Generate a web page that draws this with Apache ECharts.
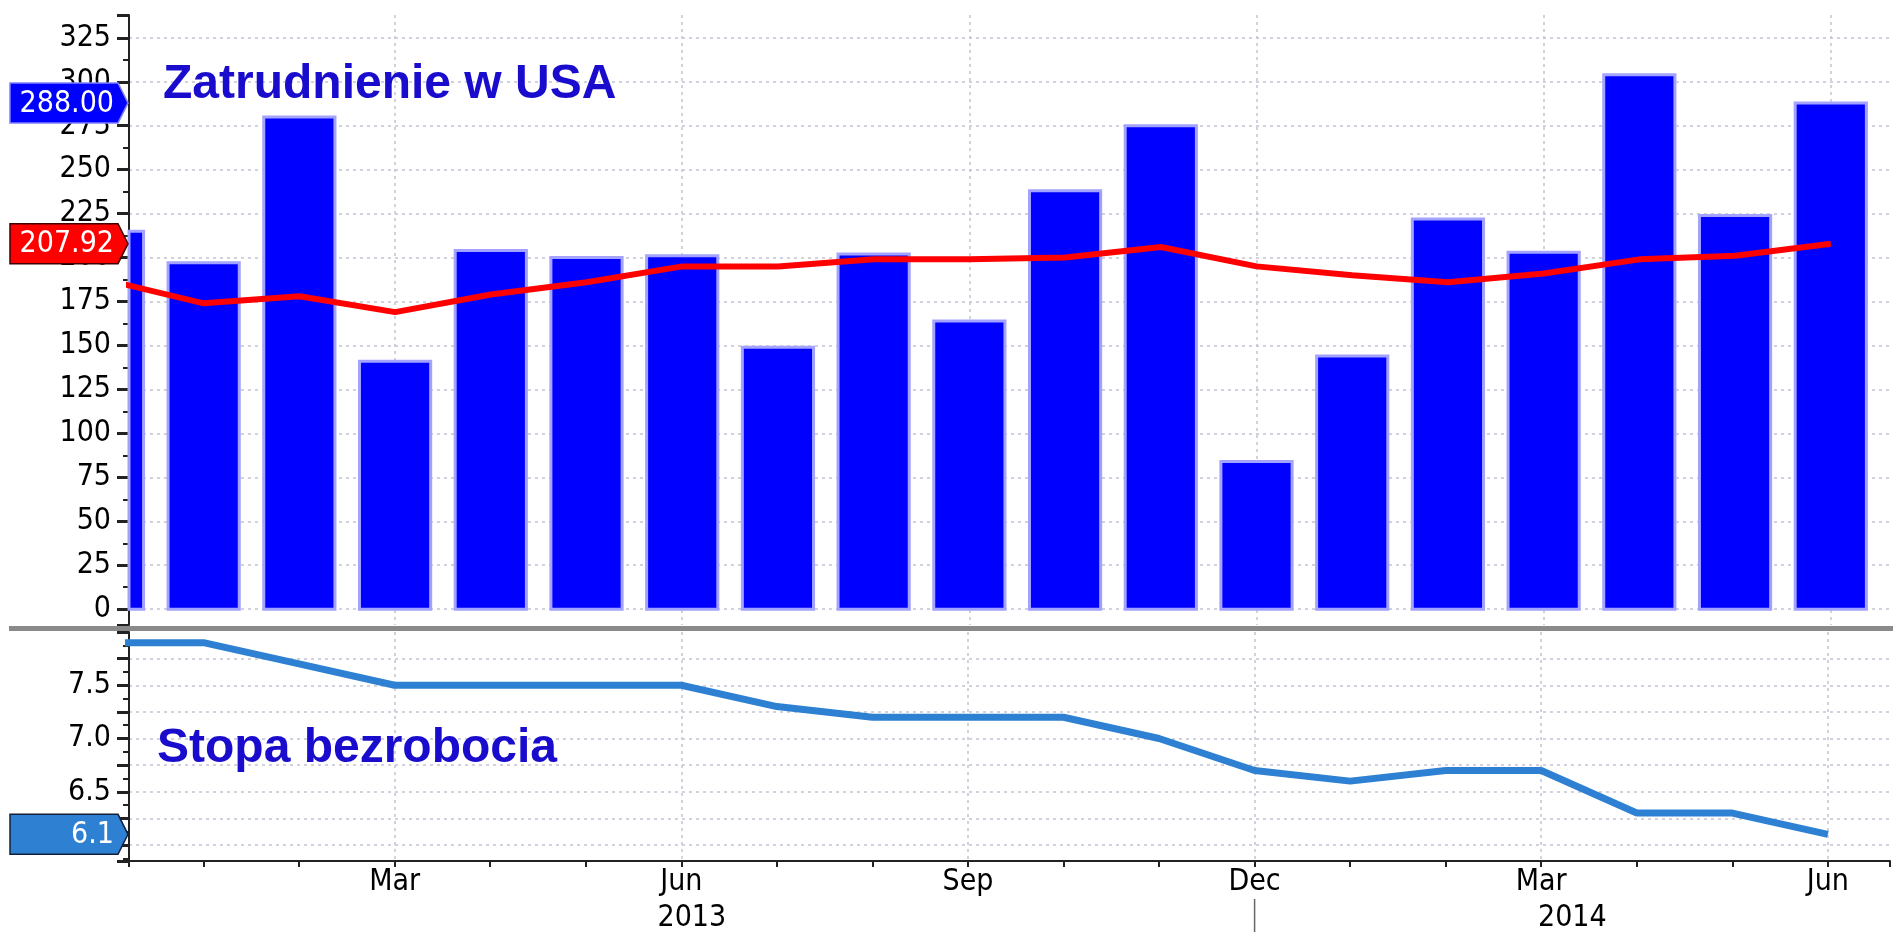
<!DOCTYPE html>
<html lang="pl">
<head>
<meta charset="UTF-8">
<title>Zatrudnienie w USA</title>
<script src="https://cdn.jsdelivr.net/npm/echarts@6/dist/echarts.min.js"></script>
<style>
html, body { margin: 0; padding: 0; background: #fff; }
#chart { width: 1893px; height: 932px; }
</style>
</head>
<body>
<div id="chart"></div>
<script>
// miesiace: indeks 0 = Dec 2012 ... 18 = Jun 2014
var months = ['Dec', 'Jan', 'Feb', 'Mar', 'Apr', 'May', 'Jun', 'Jul', 'Aug', 'Sep',
              'Oct', 'Nov', 'Dec', 'Jan', 'Feb', 'Mar', 'Apr', 'May', 'Jun'];
// zmiana zatrudnienia (tys.)
var payrolls = [215, 197, 280, 141, 204, 200, 201, 149, 202, 164,
                238, 275, 84, 144, 222, 203, 304, 224, 288];
// srednia 12-miesieczna
var payrollAvg = [187, 174, 178, 169, 179, 186, 195, 195, 199, 199,
                  200, 206, 195, 190, 186, 191, 199, 201, 207.92];
// stopa bezrobocia (%)
var unemployment = [7.9, 7.9, 7.7, 7.5, 7.5, 7.5, 7.5, 7.3, 7.2, 7.2,
                    7.2, 7.0, 6.7, 6.6, 6.7, 6.7, 6.3, 6.3, 6.1];
var years = ['2013', '2014'];
var yearStart = 12; // Dec 2013 - granica lat na osi

var FONT = '"DejaVu Sans Condensed", "Liberation Sans Narrow", "DejaVu Sans", sans-serif';
var X_MIN = 0.22, X_MAX = 18.65;

function pairs(arr) {
    var out = [];
    for (var i = 0; i < arr.length; i++) out.push([i, arr[i]]);
    return out;
}

var dashed = { color: '#c4c4d4', width: 1.5, type: [3, 4] };

function monthAxis(grid, show) {
    return {
        type: 'value', gridIndex: grid, min: X_MIN, max: X_MAX,
        minInterval: 1, maxInterval: 1,
        axisLine: { show: show, onZero: false, lineStyle: { color: '#222', width: 2 } },
        axisTick: { show: show, length: 6, lineStyle: { color: '#222', width: 2 } },
        axisLabel: {
            show: show, margin: 6, fontFamily: FONT, fontSize: 30, color: '#000',
            showMinLabel: true, showMaxLabel: true,
            formatter: function (v) {
                if (Math.abs(v - Math.round(v)) > 1e-6) return '';
                var i = Math.round(v);
                return (i % 3 === 0 && i > 0) ? months[i] : '';
            }
        },
        splitLine: { show: false }
    };
}
function quarterAxis(grid) {
    return {
        type: 'value', gridIndex: grid, min: X_MIN, max: X_MAX,
        minInterval: 3, maxInterval: 3,
        axisLine: { show: false }, axisTick: { show: false }, axisLabel: { show: false },
        splitLine: { show: true, showMinLine: false, showMaxLine: false, lineStyle: dashed }
    };
}

// slupki rysowane recznie, zeby przyciac je do krawedzi osi
function renderBar(params, api) {
    var x = api.value(0), v = api.value(1);
    var top = api.coord([x, v]);
    var base = api.coord([x, 0]);
    var half = api.size([1, 0])[0] * 0.372;
    var cs = params.coordSys;
    var rect = echarts.graphic.clipRectByRect(
        { x: top[0] - half, y: top[1], width: half * 2, height: base[1] - top[1] },
        { x: cs.x, y: cs.y, width: cs.width, height: cs.height }
    );
    if (!rect) return null;
    return {
        type: 'rect', shape: rect,
        style: { fill: '#0000ff', stroke: '#a3a3ff', lineWidth: 3 }
    };
}

var option = {
    animation: false,
    backgroundColor: '#fff',
    grid: [
        { left: 129, right: 0, top: 15, height: 610 },
        { left: 129, right: 0, top: 632, height: 229 }
    ],
    xAxis: [monthAxis(0, false), quarterAxis(0), monthAxis(1, true), quarterAxis(1)],
    yAxis: [
        {
            type: 'value', gridIndex: 0, min: -9, max: 338,
            minInterval: 25, maxInterval: 25,
            axisLine: { show: true, lineStyle: { color: '#222', width: 2 } },
            axisTick: { show: true, length: 12, lineStyle: { color: '#222', width: 3 } },
            minorTick: { show: true, splitNumber: 2, length: 6, lineStyle: { color: '#222', width: 2 } },
            axisLabel: {
                fontFamily: FONT, fontSize: 30, color: '#000', margin: 18,
                showMinLabel: true, showMaxLabel: true,
                formatter: function (v) {
                    return (v >= 0 && v <= 325 && v % 25 === 0) ? String(v) : '';
                }
            },
            splitLine: { show: true, showMinLine: false, showMaxLine: false, lineStyle: dashed }
        },
        {
            type: 'value', gridIndex: 1, min: 5.85, max: 8.0,
            minInterval: 0.25, maxInterval: 0.25,
            axisLine: { show: true, lineStyle: { color: '#222', width: 2 } },
            axisTick: { show: true, length: 12, lineStyle: { color: '#222', width: 3 } },
            minorTick: { show: true, splitNumber: 2, length: 6, lineStyle: { color: '#222', width: 2 } },
            axisLabel: {
                fontFamily: FONT, fontSize: 30, color: '#000', margin: 18,
                showMinLabel: true, showMaxLabel: true,
                formatter: function (v) {
                    var h = Math.round(v * 2);
                    if (Math.abs(v * 2 - h) > 1e-6 || v >= 7.99) return '';
                    return v.toFixed(1);
                }
            },
            splitLine: { show: true, showMinLine: false, showMaxLine: false, lineStyle: dashed }
        }
    ],
    series: [
        {
            name: 'Zatrudnienie', type: 'custom', xAxisIndex: 0, yAxisIndex: 0,
            data: pairs(payrolls), renderItem: renderBar,
            encode: { x: 0, y: 1 }, z: 2
        },
        {
            name: 'Srednia', type: 'line', xAxisIndex: 0, yAxisIndex: 0,
            data: pairs(payrollAvg), showSymbol: false, symbol: 'none',
            lineStyle: { color: '#ff0000', width: 6 }, z: 5
        },
        {
            name: 'Stopa bezrobocia', type: 'line', xAxisIndex: 2, yAxisIndex: 1,
            data: pairs(unemployment), showSymbol: false, symbol: 'none',
            lineStyle: { color: '#2e80d2', width: 7 }
        }
    ]
};

var chart = echarts.init(document.getElementById('chart'));
chart.setOption(option);

function toPx(seriesIndex, x, y) {
    return chart.convertToPixel({ seriesIndex: seriesIndex }, [x, y]);
}

function tag(y, text, fill, stroke) {
    return [
        {
            type: 'polygon', z: 200, zlevel: 1,
            shape: { points: [[10, y - 20], [118, y - 20], [128, y], [118, y + 20], [10, y + 20]] },
            style: { fill: fill, stroke: stroke, lineWidth: 1.5 }
        },
        {
            type: 'text', z: 201, zlevel: 1, x: 114, y: y + 1,
            style: { text: text, fill: '#fff', font: '30px ' + FONT, align: 'right', verticalAlign: 'middle' }
        }
    ];
}

var last = payrolls.length - 1;
var yPay = toPx(1, last, payrolls[last])[1];
var yAvg = toPx(1, last, payrollAvg[last])[1];
var yUnemp = toPx(2, last, unemployment[last])[1];

var bottomY = toPx(2, 0, 5.85)[1];
var boundaryX = toPx(2, yearStart, 6)[0];
var yearX = [toPx(2, (X_MIN + yearStart) / 2, 6)[0], toPx(2, (yearStart + X_MAX) / 2, 6)[0]];

var graphics = [
    // szara linia oddzielajaca panele
    { type: 'rect', z: 50, shape: { x: 9, y: 626, width: 1884, height: 5 }, style: { fill: '#8a8a8a' } },
    {
        type: 'text', x: 163, y: 85, z: 60,
        style: { text: 'Zatrudnienie w USA', fill: '#1a0ccd', font: 'bold 48px "Liberation Sans", Arial, sans-serif', verticalAlign: 'middle' }
    },
    {
        type: 'text', x: 157, y: 749, z: 60,
        style: { text: 'Stopa bezrobocia', fill: '#1a0ccd', font: 'bold 48px "Liberation Sans", Arial, sans-serif', verticalAlign: 'middle' }
    },
    {
        type: 'line', z: 60,
        shape: { x1: boundaryX, y1: bottomY + 38, x2: boundaryX, y2: 932 },
        style: { stroke: '#666', lineWidth: 1.5 }
    }
]
    .concat(tag(yPay, payrolls[last].toFixed(2), '#0000ff', '#8080ff'))
    .concat(tag(yAvg, payrollAvg[last].toFixed(2), '#ff0000', '#400000'))
    .concat(tag(yUnemp, unemployment[last].toFixed(1), '#2e80d2', '#10203a'));

for (var k = 0; k < years.length; k++) {
    graphics.push({
        type: 'text', x: yearX[k], y: bottomY + 57, z: 60,
        style: { text: years[k], fill: '#000', font: '30px ' + FONT, align: 'center', verticalAlign: 'middle' }
    });
}
chart.setOption({ graphic: graphics });
</script>
</body>
</html>
